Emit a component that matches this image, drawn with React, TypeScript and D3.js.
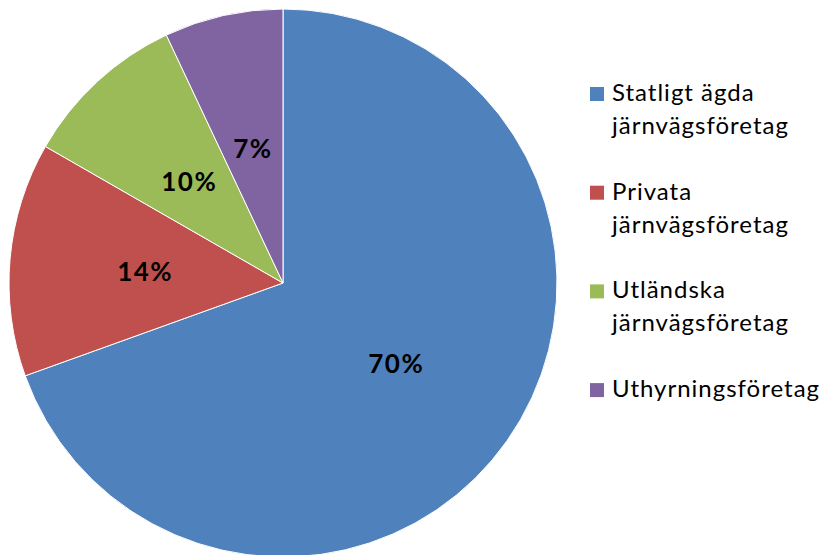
import React from "react";
import * as d3 from "d3";

const categories = [
  "Statligt ägda järnvägsföretag",
  "Privata järnvägsföretag",
  "Utländska järnvägsföretag",
  "Uthyrningsföretag",
];
const values = [69.5, 13.8, 9.7, 7.0];
const legendLines = [
  ["Statligt ägda", "järnvägsföretag"],
  ["Privata", "järnvägsföretag"],
  ["Utländska", "järnvägsföretag"],
  ["Uthyrningsföretag"],
];
const colors = ["#4F81BD", "#C0504D", "#9BBB59", "#8064A2"];

export default function App() {
  const W = 824, H = 555;
  const cx = 283, cy = 283, R = 274;
  const data = categories.map((c, i) => ({ c, v: values[i], i }));
  const pie = d3.pie<any>().value((d) => d.v).sort(null);
  const arcs = pie(data);
  const arc = d3.arc<any>().innerRadius(0).outerRadius(R);
  const total = d3.sum(values);
  const labelArc = d3.arc<any>().innerRadius(R * 0.505).outerRadius(R * 0.505);
  const font = "Lato, 'Open Sans', sans-serif";
  return (
    <svg width={W} height={H} style={{ position: "absolute", left: 0, top: 0, background: "#fff" }}>
      <g transform={`translate(${cx},${cy})`}>
        {arcs.map((a, i) => (
          <path key={i} d={arc(a) || ""} fill={colors[i]} stroke="#fff" strokeWidth={1} />
        ))}
        {arcs.map((a, i) => {
          const [x, y] = labelArc.centroid(a);
          return (
            <text key={i} x={x} y={y} textAnchor="middle" dominantBaseline="central"
              fontFamily={font} fontWeight="bold" fontSize={26} letterSpacing={1.5} fill="#000">
              {Math.round((a.data.v / total) * 100)}%
            </text>
          );
        })}
      </g>
      <g fontFamily={font} fontSize={24} letterSpacing={1} fill="#000">
        {legendLines.map((lines, i) => {
          const base = 101 + i * 98.7;
          return (
            <g key={i}>
              <rect x={590} y={base - 14} width={14} height={14} fill={colors[i]} />
              {lines.map((t, j) => (
                <text key={j} x={612} y={base + j * 33}>{t}</text>
              ))}
            </g>
          );
        })}
      </g>
    </svg>
  );
}
